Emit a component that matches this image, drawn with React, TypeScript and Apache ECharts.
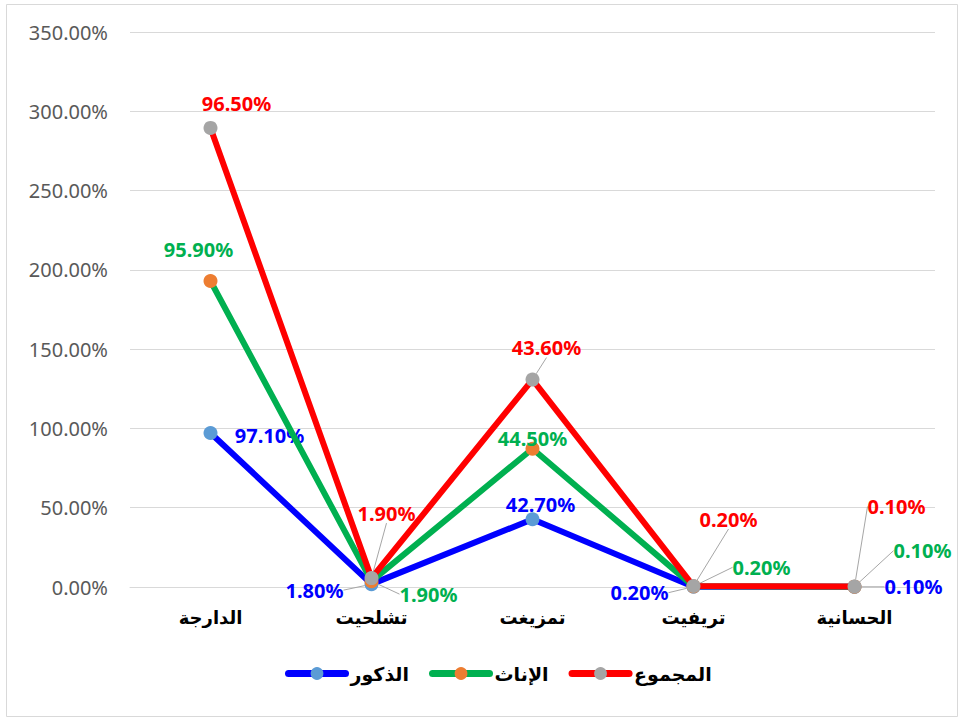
import React, { useEffect, useRef } from "react";
import * as echarts from "echarts";

const categories = ["الدارجة", "تشلحيت", "تمزيغت", "تريفيت", "الحسانية"];
const seriesNames = ["الذكور", "الإناث", "المجموع"];
const males = [97.1, 1.8, 42.7, 0.2, 0.1];
const females = [95.9, 1.9, 44.5, 0.2, 0.1];
const totals = [96.5, 1.9, 43.6, 0.2, 0.1];
const yMax = 350;
const yInterval = 50;

// label offsets (px) relative to each point, and whether a leader line is drawn
const labelOffsets = [
  [[59, 2], [-57, 6], [8, -15], [-54, 6], [59, 0]],
  [[-12, -31], [57, 13], [0, -10], [68, -19], [68, -36]],
  [[26, -24], [15, -65], [14, -32], [35, -67], [42, -80]],
];
const leaders = [
  [false, true, false, true, true],
  [false, true, false, true, true],
  [false, true, true, true, true],
];

const lineColors = ["#0000FF", "#00B050", "#FF0000"];
const markerColors = ["#5B9BD5", "#ED7D31", "#A5A5A5"];
const labelColors = ["#0000FF", "#00B050", "#FF0000"];

export default function App() {
  const ref = useRef<HTMLDivElement>(null);
  useEffect(() => {
    document.body.style.margin = "0";
    const chart = echarts.init(ref.current!, null, { renderer: "svg" });
    const datasets = [males, females, totals];
    const series = datasets.map((arr, si) => ({
      name: seriesNames[si],
      type: "line",
      stack: "total",
      data: arr.map((v, di) => ({
        value: v,
        labelLine: { show: leaders[si][di] },
      })),
      symbol: "circle",
      symbolSize: 14,
      showSymbol: true,
      lineStyle: { color: lineColors[si], width: 6 },
      itemStyle: { color: markerColors[si] },
      z: 2 + si,
      label: {
        show: true,
        color: labelColors[si],
        fontFamily: "Noto Sans",
        fontWeight: "bold",
        fontSize: 20,
        formatter: (p: any) => Number(p.value).toFixed(2) + "%",
      },
      labelLine: {
        show: false,
        lineStyle: { color: "#A6A6A6", width: 1 },
      },
      labelLayout: (p: any) => {
        const o = labelOffsets[si][p.dataIndex];
        const cx = p.rect.x + p.rect.width / 2;
        const cy = p.rect.y + p.rect.height / 2;
        return {
          x: cx + o[0],
          y: cy + o[1],
          align: "center",
          verticalAlign: "middle",
        };
      },
    }));
    chart.setOption({
      animation: false,
      backgroundColor: "#FFFFFF",
      graphic: [
        {
          type: "rect",
          shape: { x: 6.5, y: 4.5, width: 951, height: 712 },
          style: { fill: "none", stroke: "#D9D9D9", lineWidth: 1 },
          silent: true,
        },
      ],
      grid: { left: 130, right: 27, top: 32, bottom: 133, containLabel: false },
      legend: {
        data: seriesNames,
        bottom: 32,
        left: 280,
        itemWidth: 57,
        itemHeight: 16,
        itemGap: 20,
        lineStyle: { width: 7, cap: "round" },
        textStyle: {
          fontFamily: "DejaVu Sans",
          fontWeight: "bold",
          fontSize: 19,
          color: "#000000",
        },
      },
      xAxis: {
        type: "category",
        data: categories,
        boundaryGap: true,
        axisLine: { show: true, lineStyle: { color: "#D9D9D9", width: 1 } },
        axisTick: { show: false },
        axisLabel: {
          color: "#000000",
          fontFamily: "DejaVu Sans",
          fontWeight: "bold",
          fontSize: 18,
          margin: 21,
        },
      },
      yAxis: {
        type: "value",
        min: 0,
        max: yMax,
        interval: yInterval,
        axisLine: { show: false },
        axisTick: { show: false },
        splitLine: { lineStyle: { color: "#D9D9D9", width: 1 } },
        axisLabel: {
          color: "#595959",
          fontFamily: "Noto Sans",
          fontSize: 20,
          margin: 22,
          formatter: (v: number) => v.toFixed(2) + "%",
        },
      },
      series,
    });
    return () => chart.dispose();
  }, []);
  return <div ref={ref} style={{ width: 962, height: 720 }} />;
}
